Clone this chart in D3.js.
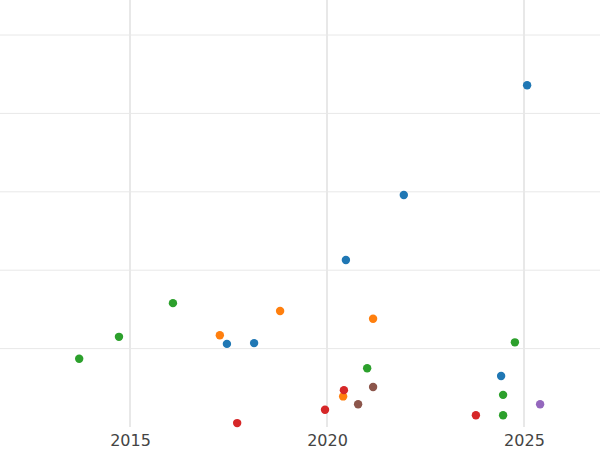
<!DOCTYPE html>
<html><head><meta charset="utf-8">
<script src="https://cdn.jsdelivr.net/npm/d3@7"></script>
<style>body{margin:0;background:#fff}text{font-family:"DejaVu Sans",sans-serif}</style>
</head><body><svg id="c" width="600" height="450"></svg>
<script>
// series: [year, value]
var greenPts = [[2013.71,0.87],[2014.72,1.15],[2016.09,1.58],[2021.02,0.75],[2024.77,1.08],[2024.47,0.41],[2024.47,0.15]];
var bluePts = [[2025.08,4.36],[2021.95,2.96],[2020.48,2.13],[2017.46,1.06],[2018.15,1.07],[2024.42,0.65]];
var orangePts = [[2017.28,1.17],[2018.81,1.48],[2021.17,1.38],[2020.41,0.39]];
var redPts = [[2017.72,0.05],[2019.95,0.22],[2020.43,0.47],[2023.78,0.15]];
var brownPts = [[2020.79,0.29],[2021.17,0.51]];
var purplePts = [[2025.41,0.29]];
var xTicks = [2015, 2020, 2025];
var yTicks = [1, 2, 3, 4, 5];

var series = [
  {pts: greenPts, color: "#2ca02c"},
  {pts: bluePts, color: "#1f77b4"},
  {pts: orangePts, color: "#ff7f0e"},
  {pts: redPts, color: "#d62728"},
  {pts: brownPts, color: "#8c564b"},
  {pts: purplePts, color: "#9467bd"}
];

var svg = d3.select("#c");
var x = d3.scaleLinear().domain([2011.7, 2026.93]).range([0, 600]);
var y = d3.scaleLinear().domain([0, 5]).range([427, 35]);

svg.append("g").selectAll("line").data(yTicks).join("line")
  .attr("x1", 0).attr("x2", 600).attr("y1", d => y(d)).attr("y2", d => y(d))
  .attr("stroke", "#e8e8e8").attr("stroke-width", 1);
svg.append("g").selectAll("line").data(xTicks).join("line")
  .attr("x1", d => x(d)).attr("x2", d => x(d)).attr("y1", 0).attr("y2", 427)
  .attr("stroke", "#e8e8e8").attr("stroke-width", 2);

var xa = svg.append("g").attr("transform", "translate(0,427)")
  .call(d3.axisBottom(x).tickValues(xTicks).tickFormat(d3.format("d")).tickSize(0).tickPadding(8));
xa.select(".domain").remove();
xa.selectAll("text").attr("font-size", 16).attr("fill", "#444").attr("font-family", "DejaVu Sans, sans-serif");

series.forEach(function(s){
  svg.append("g").selectAll("circle").data(s.pts).join("circle")
    .attr("cx", d => x(d[0])).attr("cy", d => y(d[1])).attr("r", 4.2)
    .attr("fill", s.color);
});
</script></body></html>
